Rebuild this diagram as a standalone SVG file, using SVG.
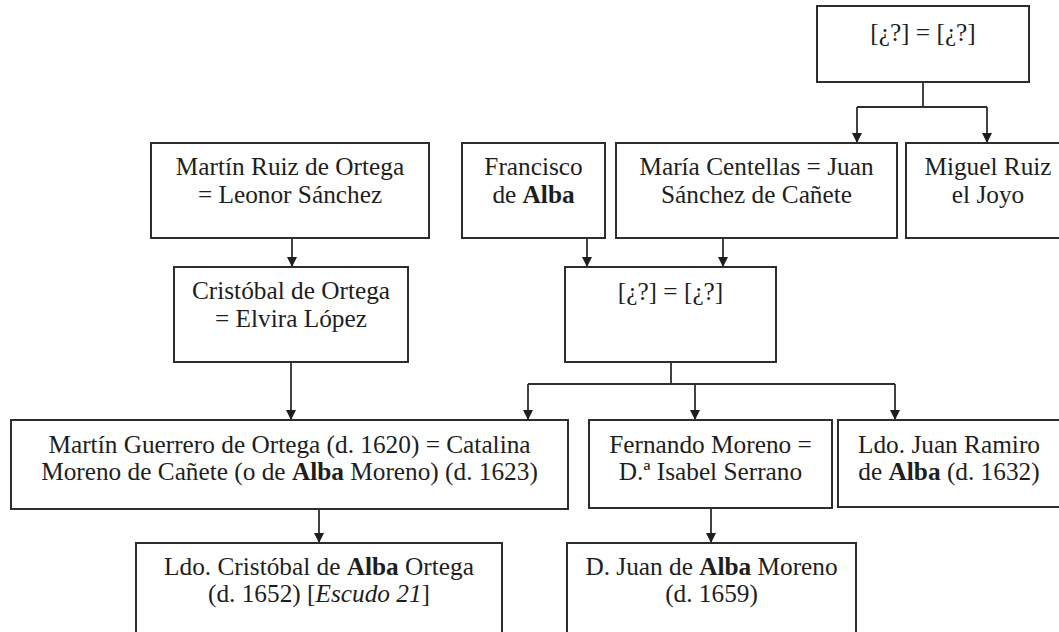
<svg xmlns="http://www.w3.org/2000/svg" width="1059" height="632" viewBox="0 0 1059 632">
<style>
.box{fill:#fff;stroke:#2e2e2e;stroke-width:2}
.t{font-family:"Liberation Serif","Times New Roman",serif;font-size:25.3px;fill:#1e1e1e;text-anchor:middle}
.b{font-weight:bold}
.i{font-style:italic}
.c{fill:none;stroke:#2e2e2e;stroke-width:1.8}
</style>
<defs>
<marker id="arr" markerUnits="userSpaceOnUse" markerWidth="12" markerHeight="12" refX="10" refY="5" orient="auto">
<path d="M0,0 L10,5 L0,10 Z" fill="#1e1e1e"/>
</marker>
</defs>
<rect width="1059" height="632" fill="#fff"/>
<g id="connectors">
<path class="c" d="M923,82 V107 M857,107 H987"/>
<path class="c" d="M857,107 V143" marker-end="url(#arr)"/>
<path class="c" d="M987,107 V143" marker-end="url(#arr)"/>
<path class="c" d="M292,238 V267" marker-end="url(#arr)"/>
<path class="c" d="M587,238 V267" marker-end="url(#arr)"/>
<path class="c" d="M723,238 V267" marker-end="url(#arr)"/>
<path class="c" d="M291,362 V420" marker-end="url(#arr)"/>
<path class="c" d="M671,362 V384 M528,384 H895"/>
<path class="c" d="M528,384 V420" marker-end="url(#arr)"/>
<path class="c" d="M695,384 V420" marker-end="url(#arr)"/>
<path class="c" d="M895,384 V420" marker-end="url(#arr)"/>
<path class="c" d="M319,509 V543" marker-end="url(#arr)"/>
<path class="c" d="M711,508 V543" marker-end="url(#arr)"/>
</g>
<g id="n-top">
<rect class="box" x="817" y="6" width="212" height="76"/>
<text class="t" x="923" y="41">[¿?] = [¿?]</text>
</g>
<g id="n-martin-ruiz">
<rect class="box" x="151" y="143" width="278" height="95"/>
<text class="t" x="290" y="175">Martín Ruiz de Ortega</text>
<text class="t" x="290" y="203">= Leonor Sánchez</text>
</g>
<g id="n-francisco">
<rect class="box" x="462" y="143" width="143" height="95"/>
<text class="t" x="533.5" y="175">Francisco</text>
<text class="t" x="533.5" y="203">de <tspan class="b">Alba</tspan></text>
</g>
<g id="n-maria">
<rect class="box" x="616" y="143" width="281" height="95"/>
<text class="t" x="756.5" y="175">María Centellas = Juan</text>
<text class="t" x="756.5" y="203">Sánchez de Cañete</text>
</g>
<g id="n-miguel">
<rect class="box" x="906" y="143" width="164" height="95"/>
<text class="t" x="988" y="175">Miguel Ruiz</text>
<text class="t" x="988" y="203">el Joyo</text>
</g>
<g id="n-cristobal">
<rect class="box" x="174" y="267" width="234" height="95"/>
<text class="t" x="291" y="299">Cristóbal de Ortega</text>
<text class="t" x="291" y="327">= Elvira López</text>
</g>
<g id="n-mid">
<rect class="box" x="565" y="267" width="211" height="95"/>
<text class="t" x="670.5" y="300">[¿?] = [¿?]</text>
</g>
<g id="n-martin-guerrero">
<rect class="box" x="11" y="420" width="557" height="89"/>
<text class="t" x="289.5" y="453">Martín Guerrero de Ortega (d. 1620) = Catalina</text>
<text class="t" x="289.5" y="480">Moreno de Cañete (o de <tspan class="b">Alba</tspan> Moreno) (d. 1623)</text>
</g>
<g id="n-fernando">
<rect class="box" x="589" y="420" width="243" height="88"/>
<text class="t" x="710.5" y="453">Fernando Moreno =</text>
<text class="t" x="710.5" y="480">D.ª Isabel Serrano</text>
</g>
<g id="n-juan-ramiro">
<rect class="box" x="838" y="420" width="224" height="87"/>
<text class="t" x="949" y="453">Ldo. Juan Ramiro</text>
<text class="t" x="949" y="480">de <tspan class="b">Alba</tspan> (d. 1632)</text>
</g>
<g id="n-ldo-cristobal">
<rect class="box" x="136" y="543" width="366" height="100"/>
<text class="t" x="319" y="575">Ldo. Cristóbal de <tspan class="b">Alba</tspan> Ortega</text>
<text class="t" x="319" y="602">(d. 1652) [<tspan class="i">Escudo 21</tspan>]</text>
</g>
<g id="n-juan-alba">
<rect class="box" x="567" y="543" width="289" height="100"/>
<text class="t" x="711.5" y="575">D. Juan de <tspan class="b">Alba</tspan> Moreno</text>
<text class="t" x="711.5" y="602">(d. 1659)</text>
</g>
</svg>
